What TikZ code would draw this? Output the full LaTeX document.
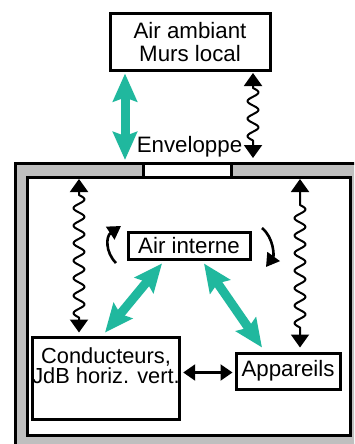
\documentclass[tikz,border=0pt]{standalone}
\usepackage{fontspec}
\setmainfont{Liberation Sans}
\usetikzlibrary{arrows.meta,calc}
\definecolor{tealarrow}{RGB}{32,184,158}
\definecolor{wallgray}{RGB}{191,191,191}
\tikzset{
  box/.style={draw=black, line width=3pt, fill=white, inner sep=0pt, align=center},
  lbl/.style={font=\fontsize{22.3}{23}\selectfont},
  fat/.style={line width=9pt, tealarrow, {Stealth[width=24pt,length=28pt,inset=4pt]}-{Stealth[width=24pt,length=28pt,inset=4pt]}},
  wavy/.style={line width=2pt, line join=round, {Triangle[width=18pt,length=13pt]}-{Triangle[width=18pt,length=13pt]}},
  dbl/.style={line width=2.2pt, {Triangle[width=16pt,length=12pt]}-{Triangle[width=16pt,length=12pt]}},
  turn/.style={line width=2.6pt, -{Triangle[width=15pt,length=13pt]}},
  wall/.style={draw=black, line width=3pt}
}
\begin{document}
\begin{tikzpicture}[x=1pt, y=-1pt]
\useasboundingbox (0,0) rectangle (354,444);
\clip (0,0) rectangle (354,444);
% building
\filldraw[wall, fill=wallgray] (15,163) rectangle (370,460);
\filldraw[wall, fill=white] (27.5,177) rectangle (350.5,435);
\filldraw[wall, fill=white] (143,163) rectangle (231,177);
% nodes
\node[box, lbl, minimum width=160pt, minimum height=56pt] (amb) at (190,42) {Air ambiant\\Murs local};
\node[lbl, anchor=base] (env) at (189.5,152) {Enveloppe};
\node[box, lbl, minimum width=122pt, minimum height=27pt] (air) at (189,245.5) {Air interne};
\node[box, font=\fontsize{21.8}{21}\selectfont, minimum width=142pt, minimum height=82pt] (cond) at (106,378) {Conducteurs,\\[-1pt]JdB horiz. vert.\\[3pt]};
\node[box, lbl, minimum width=104pt, minimum height=36pt] (app) at (288,371) {Appareils};
% coordinates
\coordinate (gT) at (125,160);
\coordinate (wT) at (253,158);
\coordinate (wL) at (79,179);
\coordinate (wR) at (300,179);
\coordinate (cl1) at (116,263);
\coordinate (cl2) at (121,226);
\coordinate (cr1) at (262,228);
\coordinate (cr2) at (266,267);
% green connectors
\draw[fat] (amb.south -| gT) ++(0,2) -- (gT);
\draw[fat] ($(air.south -| 162,0)+(0,3)$) -- ($(cond.north -| 105,0)+(0,-3)$);
\draw[fat] ($(air.south -| 204,0)+(0,3)$) -- ($(app.north -| 262,0)+(0,-4)$);
% wavy connectors
\draw[wavy] ($(amb.south -| wT)+(0,1.5)$) -- (253,88)
  -- plot[smooth, domain=88:140.5, samples=45, variable=\yy] ({253+5.5*sin(((\yy-88)/17.5)*360)},\yy)
  -- (wT);
\draw[wavy] (wL) -- (79,195)
  -- plot[smooth, domain=195:317.5, samples=90, variable=\yy] ({79+5.5*sin(((\yy-195)/17.5)*360)},\yy)
  -- ($(wL |- cond.north)+(0,-3)$);
\draw[wavy] (wR) -- (300,205)
  -- plot[smooth, domain=205:327.5, samples=90, variable=\yy] ({300+5.5*sin(((\yy-205)/17.5)*360)},\yy)
  -- ($(wR |- app.north)+(0,-4)$);
% black connectors
\draw[dbl] ($(app.west -| cond.east)+(2,1.5)$) -- ($(app.west)+(-2,1.5)$);
\draw[turn] (cl1) .. controls (105,252) and (106,236) .. (cl2);
\draw[turn] (cr1) .. controls (274,238) and (274,256) .. (cr2);
\end{tikzpicture}
\end{document}
